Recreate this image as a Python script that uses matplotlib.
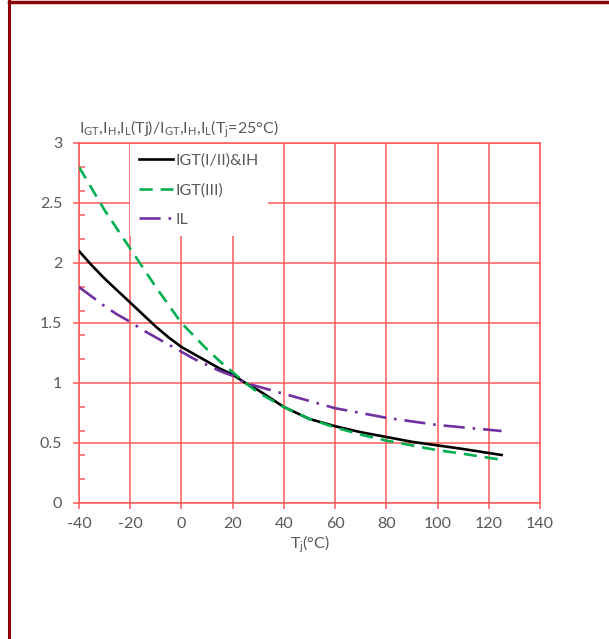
import numpy as np
import matplotlib.pyplot as plt
from matplotlib.lines import Line2D

# Datos (Tj en °C, valor normalizado a 25°C)
tj = [-40, -35, -30, -25, -20, -15, -10, -5, 0, 5, 10, 15, 20, 25, 30, 35, 40, 50, 60, 70, 80, 90, 100, 110, 125]
igt_i_ii = [2.10, 1.98, 1.87, 1.77, 1.67, 1.57, 1.47, 1.38, 1.30, 1.24, 1.18, 1.12, 1.07, 1.00, 0.94, 0.87, 0.80, 0.70, 0.64, 0.59, 0.55, 0.51, 0.48, 0.45, 0.40]
igt_iii = [2.80, 2.62, 2.44, 2.28, 2.12, 1.96, 1.80, 1.65, 1.50, 1.39, 1.28, 1.18, 1.09, 1.00, 0.92, 0.86, 0.80, 0.70, 0.63, 0.57, 0.52, 0.48, 0.44, 0.41, 0.36]
il = [1.80, 1.72, 1.64, 1.57, 1.51, 1.44, 1.38, 1.32, 1.26, 1.20, 1.15, 1.10, 1.06, 1.00, 0.97, 0.94, 0.91, 0.85, 0.79, 0.75, 0.71, 0.68, 0.65, 0.63, 0.60]

xticks = [-40, -20, 0, 20, 40, 60, 80, 100, 120, 140]
yticks = [0, 0.5, 1, 1.5, 2, 2.5, 3]

gris = "#595959"
rojo = "#ff5a5a"

plt.rcParams['font.family'] = ['Lato', 'DejaVu Sans']
plt.rcParams['axes.unicode_minus'] = False

fig = plt.figure(figsize=(6.09, 6.39), dpi=100)
ax = fig.add_axes([79 / 609, 1 - 503 / 639, (540 - 79) / 609, (503 - 143) / 639])

ax.plot(tj, igt_i_ii, color="black", lw=1.9, label="IGT(I/II)&IH", zorder=4)
ax.plot(tj, igt_iii, color="#00b050", lw=1.9, dashes=(5, 3), label="IGT(III)", zorder=4)
ax.plot(tj, il, color="#7030a0", lw=1.9, dashes=(8, 3, 1, 3), label="IL", zorder=4)

ax.set_xlim(-40, 140)
ax.set_ylim(0, 3)
ax.set_xticks(xticks)
ax.set_xticklabels([str(v) for v in xticks])
ax.set_yticks(yticks)
ax.set_yticks(np.arange(0.2, 3.0, 0.2), minor=True)
ax.set_yticklabels([f"{v:g}" for v in yticks])
ax.grid(True, color=rojo, lw=1.1, zorder=1)
for s in ax.spines.values():
    s.set_color(rojo)
    s.set_linewidth(1.1)
ax.tick_params(axis="x", colors=rojo, labelcolor=gris, labelsize=11.5, length=4, width=1.1, pad=6)
ax.tick_params(axis="y", which="major", colors=rojo, labelcolor=gris, labelsize=11.5, length=4, width=1.1, pad=8)
ax.tick_params(axis="y", which="minor", colors=rojo, direction="in", length=4, width=1.1)

ax.set_xlabel(r"$\mathregular{T_j}$(°C)", color=gris, fontsize=11.5, labelpad=2)
ax.text(0.0, 1.008, r"$\mathregular{I_{GT}{,}I_H{,}I_L(Tj)/I_{GT}{,}I_H{,}I_L(T_j}$=25°C)",
        transform=ax.transAxes, color=gris, fontsize=11.5, ha="left", va="bottom")

leg = ax.legend(loc="upper left", bbox_to_anchor=(0.11, 0.997), frameon=True, fontsize=11.5,
                handlelength=2.1, handletextpad=0.15, labelspacing=0.95, borderaxespad=0.0,
                borderpad=0.6, fancybox=False)
leg.get_frame().set_edgecolor("none")
leg.get_frame().set_facecolor("white")
leg.get_frame().set_alpha(1)
leg.set_zorder(3)
for t in leg.get_texts():
    t.set_color(gris)

# marco rojo oscuro de la figura
fig.add_artist(Line2D([9 / 609, 9 / 609], [0, 1], color="#8b0000", lw=2.2))
fig.add_artist(Line2D([9 / 609, 1], [1 - 1.5 / 639, 1 - 1.5 / 639], color="#8b0000", lw=2.5))

fig.savefig("out.png", dpi=100)
